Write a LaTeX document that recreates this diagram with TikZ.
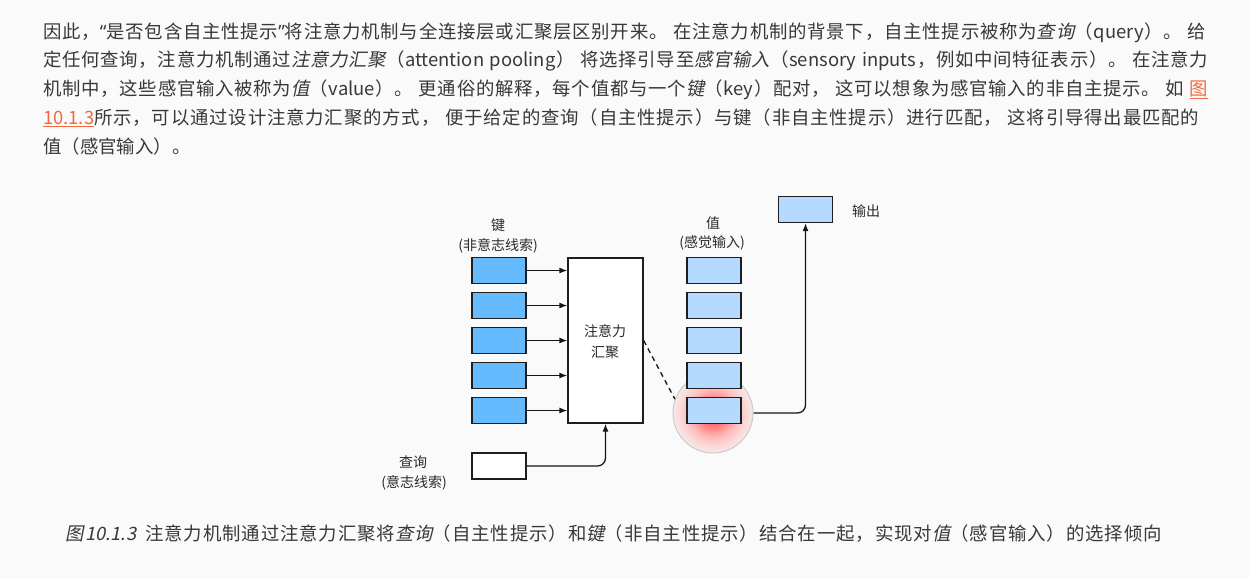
\documentclass[tikz,border=0pt]{standalone}
\usepackage{fontspec}
\usetikzlibrary{arrows.meta,shadings}
\setmainfont{Noto Sans CJK SC}
\newfontfamily\itf[FakeSlant=0.2]{Noto Sans CJK SC}
\newfontfamily\latf{Noto Sans}
% inter-character stretch for justified CJK lines
\XeTeXinterchartokenstate=1
\newXeTeXintercharclass\cjkc
\newcount\mycnt
\mycnt="3000 \loop\ifnum\mycnt<"3040 \XeTeXcharclass\mycnt=\cjkc\relax\advance\mycnt by 1\relax\repeat
\mycnt="4E00 \loop\ifnum\mycnt<"A000 \XeTeXcharclass\mycnt=\cjkc\relax\advance\mycnt by 1\relax\repeat
\mycnt="FF00 \loop\ifnum\mycnt<"FF60 \XeTeXcharclass\mycnt=\cjkc\relax\advance\mycnt by 1\relax\repeat
\XeTeXinterchartoks\cjkc\cjkc={\hskip0pt plus1pt minus1pt\relax}
\XeTeXinterchartoks\cjkc 0={\hskip0pt plus1pt minus1pt\relax}
\XeTeXinterchartoks 0\cjkc={\hskip0pt plus1pt minus1pt\relax}
\definecolor{bg}{HTML}{FAFAFA}
\definecolor{txt}{HTML}{383838}
\definecolor{dtxt}{HTML}{2A2A2A}
\definecolor{linkc}{HTML}{F26A3D}
\definecolor{keyc}{HTML}{66BBFF}
\definecolor{valc}{HTML}{B4DAFF}
\definecolor{boxline}{HTML}{1E1E1E}
\definecolor{lnc}{HTML}{151515}
\definecolor{glowa}{RGB}{255,45,45}
\definecolor{glowb}{RGB}{255,110,110}
\definecolor{glowc}{RGB}{255,185,185}
\definecolor{glowd}{RGB}{250,218,218}
\definecolor{glowe}{RGB}{246,231,231}
\pgfdeclareradialshading{glow}{\pgfpoint{0bp}{0bp}}{color(0bp)=(glowa); color(7bp)=(glowb); color(15bp)=(glowc); color(21bp)=(glowd); color(25bp)=(glowe); color(50bp)=(glowe)}
\newcommand\pfont{\fontsize{18.4}{28}\selectfont}
\newcommand\dfont{\fontsize{14}{21}\selectfont}
\newcommand\emc[1]{{\itf #1}}
\newcommand\lnk[1]{\textcolor{linkc}{\underline{#1}}}
\newcommand\myopq{{\latf “}}
\newcommand\myclq{{\latf ”}}
\begin{document}
\begin{tikzpicture}[x=1pt,y=-1pt,
  box/.style={draw=boxline, line width=1.3pt, minimum width=54pt, minimum height=26pt, inner sep=0pt},
  keybox/.style={box, fill=keyc},
  valbox/.style={box, fill=valc},
  lab/.style={text=dtxt, font=\dfont, inner sep=0pt},
  arr/.style={draw=lnc, line width=1.3pt, -{Latex[length=8pt,width=6pt]}},
  para/.style={anchor=base west, inner sep=0pt, text=txt, font=\pfont}]
\fill[bg] (0,0) rectangle (1249,579);
\useasboundingbox (0,0) rectangle (1249,579);
% paragraph
\node[para] (l1) at (43,38) {\hbox to 1163pt{因此，\myopq 是否包含自主性提示\myclq 将注意力机制与全连接层或汇聚层区别开来。 在注意力机制的背景下，自主性提示被称为\emc{查询}（query）。 给}};
\node[para] (l2) at (43,66.75) {\hbox to 1165pt{定任何查询，注意力机制通过\emc{注意力汇聚}（attention pooling） 将选择引导至\emc{感官输入}（sensory inputs，例如中间特征表示）。 在注意力}};
\node[para] (l3) at (43,95.5) {\hbox to 1165pt{机制中，这些感官输入被称为\emc{值}（value）。 更通俗的解释，每个值都与一个\emc{键}（key）配对， 这可以想象为感官输入的非自主提示。 如 \lnk{图}}};
\node[para] (l4) at (43,124.25) {\hbox to 1156pt{\lnk{10.1.3}所示，可以通过设计注意力汇聚的方式， 便于给定的查询（自主性提示）与键（非自主性提示）进行匹配， 这将引导得出最匹配的}};
\node[para] (l5) at (43,153) {值（感官输入）。};
% glow circle
\node[circle, minimum size=80pt, inner sep=0pt, draw=gray!40, line width=1pt, shade, shading=glow] (glow) at (713,413) {};
% keys
\node[keybox] (k1) at (499,270.5) {};
\node[keybox] (k2) at (499,305.5) {};
\node[keybox] (k3) at (499,340.5) {};
\node[keybox] (k4) at (499,375.5) {};
\node[keybox] (k5) at (499,410.5) {};
% pooling
\node[draw=boxline, line width=1.3pt, fill=white, minimum width=75pt, minimum height=165pt, inner sep=0pt] (pool) at (605.5,340.5) {};
\node[lab, align=center] (pooltxt) at (605,342) {注意力\\汇聚};
% values
\node[valbox] (v1) at (714,270.5) {};
\node[valbox] (v2) at (714,305.5) {};
\node[valbox] (v3) at (714,340.5) {};
\node[valbox] (v4) at (714,375.5) {};
\node[valbox] (v5) at (714,410.5) {};
% query and output
\node[box, fill=white] (q) at (499,466) {};
\node[valbox] (out) at (805.5,209.5) {};
% labels
\node[lab] (keyl1) at (498,225) {键};
\node[lab] (keyl2) at (498,246) {(非意志线索)};
\node[lab] (ql1) at (413,462) {查询};
\node[lab] (ql2) at (414,483) {(意志线索)};
\node[lab] (vl1) at (713,223) {值};
\node[lab] (vl2) at (712,243) {(感觉输入)};
\node[lab] (outl) at (866,211) {输出};
% connectors
\foreach \k in {k1,k2,k3,k4,k5}{\draw[arr] (\k.east) -- (\k.east -| pool.west);}
\draw[arr, rounded corners=8pt] (q.east) -| (pool.south);
\draw[lnc, line width=1.3pt, dash pattern=on 5pt off 4pt] (pool.east) -- (glow.160);
\draw[arr, rounded corners=8pt] (glow.east) -| (out.south);
% caption
\node[para, text=txt] (cap) at (65.7,540) {\hbox to 1096pt{{\itf 图10.1.3}\hskip 9pt 注意力机制通过注意力汇聚将\emc{查询}（自主性提示）和\emc{键}（非自主性提示）结合在一起，实现对\emc{值}（感官输入）的选择倾向}};
\end{tikzpicture}
\end{document}
